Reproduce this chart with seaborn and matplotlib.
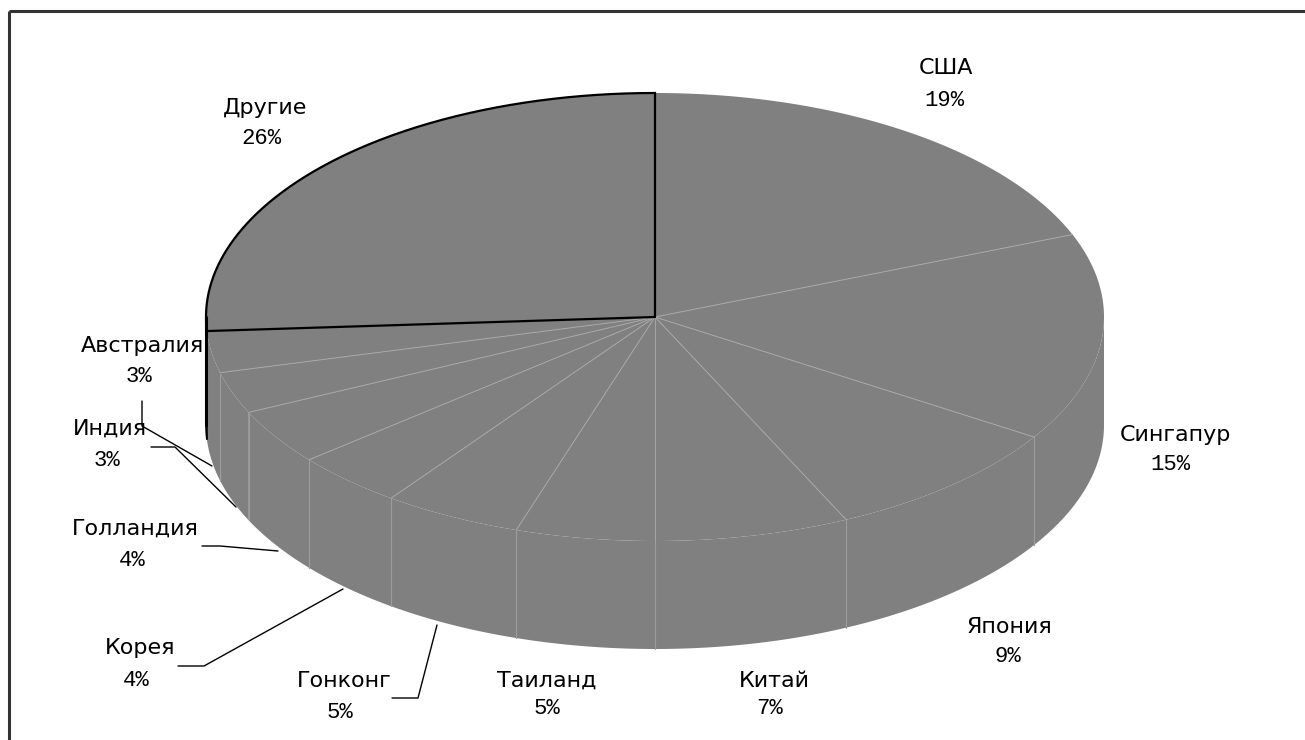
import numpy as np
import matplotlib
matplotlib.use("Agg")
import matplotlib.pyplot as plt
import seaborn as sns
from matplotlib.patches import Polygon

sns.set_theme(style="white")
plt.rcParams['font.family'] = ['DejaVu Sans']

# ---- data ----
countries = ["США", "Сингапур", "Япония", "Китай", "Таиланд", "Гонконг",
             "Корея", "Голландия", "Индия", "Австралия", "Другие"]
shares = [19, 15, 9, 7, 5, 5, 4, 4, 3, 3, 26]
pct_labels = ["19%", "15%", "9%", "7%", "5%", "5%", "4%", "4%", "3%", "3%", "26%"]

# label layout (pixel coords, name line / percent line)
name_pos = [(946, 68), (1175, 435), (1009, 627), (774, 681), (547, 681), (344, 681),
            (140, 648), (135, 529), (110, 429), (142, 346), (265, 108)]
pct_pos = [(944, 100), (1170, 465), (1008, 657), (770, 709), (547, 709), (340, 712),
           (136, 680), (132, 561), (107, 461), (139, 376), (261, 139)]
leaders = {
    "Австралия": [(142, 401), (142, 426), (212, 466)],
    "Индия": [(151, 447), (175, 447), (236, 507)],
    "Голландия": [(202, 546), (220, 546), (278, 551)],
    "Корея": [(178, 666), (204, 666), (343, 589)],
    "Гонконг": [(392, 698), (418, 698), (437, 625)],
}

W, H = 1305, 740
fig = plt.figure(figsize=(W / 100, H / 100), dpi=100)
ax = fig.add_axes([0, 0, 1, 1])
ax.set_xlim(0, W)
ax.set_ylim(H, 0)
ax.axis("off")

cx, cy, a, b, depth = 655, 317, 449, 224, 108
grey = "#808080"
edge_light = "#a6a6a6"


def pt(t, dz=0):
    r = np.radians(t)
    return cx + a * np.cos(r), cy - b * np.sin(r) + dz


cum = np.concatenate([[0], np.cumsum(shares)])
t_bounds = 90 - 360 * cum / cum[-1]

# side walls (front half: t in [-180, 0])
for i in range(len(shares)):
    ts, te = t_bounds[i], t_bounds[i + 1]
    hi, lo = min(ts, 0), max(te, -180)
    if hi <= lo:
        continue
    tt = np.linspace(hi, lo, 60)
    top = [pt(t) for t in tt]
    bot = [pt(t, depth) for t in tt[::-1]]
    ax.add_patch(Polygon(top + bot, closed=True, facecolor=grey,
                         edgecolor="none", zorder=2))
    for tb in (ts, te):
        if -180 < tb < 0:
            x0, y0 = pt(tb)
            ax.plot([x0, x0], [y0, y0 + depth], color="#9c9c9c", lw=0.8, zorder=3)

# top sectors
for i in range(len(shares)):
    ts, te = t_bounds[i], t_bounds[i + 1]
    tt = np.linspace(ts, te, 200)
    poly = [(cx, cy)] + [pt(t) for t in tt]
    ax.add_patch(Polygon(poly, closed=True, facecolor=grey,
                         edgecolor="none", zorder=4))

# radial edges on top
for tb in t_bounds[1:-1]:
    x0, y0 = pt(tb)
    ax.plot([cx, x0], [cy, y0], color=edge_light, lw=0.7, zorder=5)

# black outline of "Другие" slice (top + visible side)
ts, te = t_bounds[-2], t_bounds[-1]
tt = np.linspace(ts, te, 200)
outline = [(cx, cy)] + [pt(t) for t in tt] + [(cx, cy)]
ox, oy = zip(*outline)
ax.plot(ox, oy, color="black", lw=1.6, zorder=6, solid_joinstyle="miter")
tw = np.linspace(ts, -180, 10)
x_l, y_l = pt(-180)
ax.plot([x_l, x_l], [y_l, y_l + depth], color="black", lw=2.2, zorder=6)
x_s, y_s = pt(ts)
ax.plot([x_s, x_s], [y_s, y_s + depth], color="black", lw=1.2, zorder=6)
bw = [pt(t, depth) for t in tw]
ax.plot(*zip(*bw), color="black", lw=1.2, zorder=6)

# labels
for name, pct, (nx, ny), (px, py) in zip(countries, pct_labels, name_pos, pct_pos):
    ax.text(nx, ny, name, ha="center", va="center", fontsize=16,
            family="DejaVu Sans", color="black", zorder=7)
    ax.text(px, py, pct, ha="center", va="center", fontsize=16,
            family="Liberation Mono", color="black", zorder=7)

for name, pts in leaders.items():
    xs, ys = zip(*pts)
    ax.plot(xs, ys, color="black", lw=1.0, zorder=7)

# outer frame (top and left edges visible)
ax.plot([9, W], [11, 11], color="#333333", lw=2.2, zorder=8, solid_capstyle="butt")
ax.plot([9, 9], [11, H], color="#333333", lw=2.2, zorder=8, solid_capstyle="butt")

fig.savefig("out.png", dpi=100, facecolor="white")
